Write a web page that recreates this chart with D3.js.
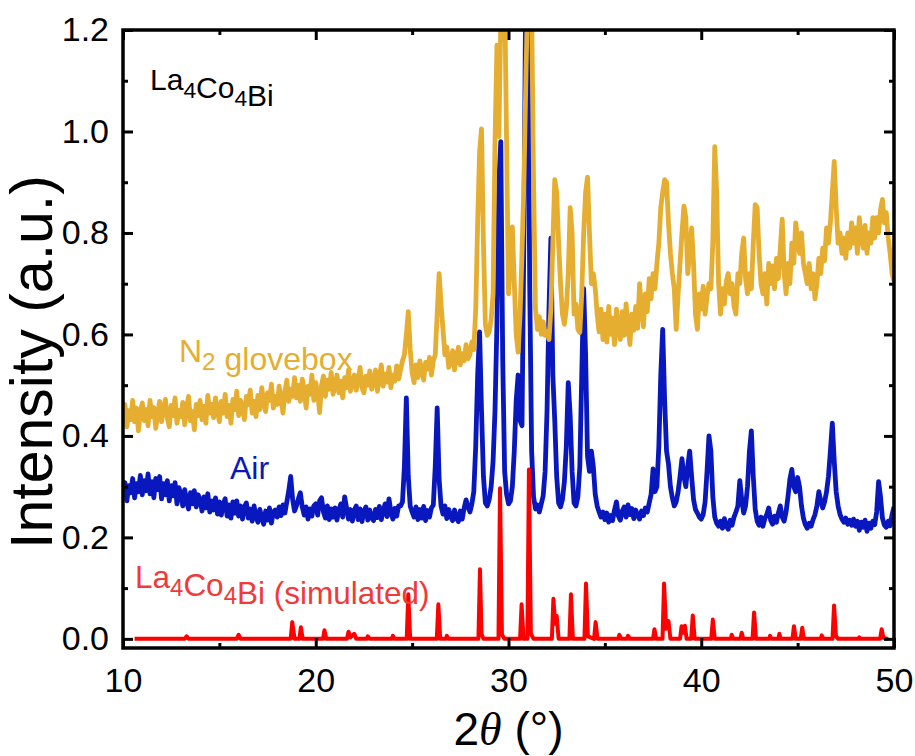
<!DOCTYPE html>
<html>
<head>
<meta charset="utf-8">
<script src="https://cdn.jsdelivr.net/npm/d3@7"></script>
<style>
  html, body { margin: 0; padding: 0; background: #fff; }
  svg { display: block; }
  text { font-family: "Liberation Sans", Arial, sans-serif; }
</style>
</head>
<body>
<svg id="chart" width="915" height="756"></svg>
<script>
// Powder XRD of La4Co4Bi: sample kept in N2 glovebox, sample exposed to air,
// and the simulated pattern. Measured patterns sampled every 0.1 deg (10-50 deg).
const angleStart = 10, angleStep = 0.1;

const gloveboxIntensity = [
  0.425,0.462,0.418,0.450,0.432,0.470,0.428,0.455,0.410,0.448,
  0.465,0.430,0.452,0.420,0.470,0.438,0.456,0.415,0.445,0.468,
  0.428,0.452,0.472,0.435,0.418,0.460,0.440,0.475,0.425,0.450,
  0.438,0.466,0.422,0.455,0.478,0.430,0.448,0.412,0.462,0.440,
  0.470,0.432,0.458,0.425,0.480,0.445,0.462,0.436,0.475,0.450,
  0.428,0.468,0.445,0.482,0.438,0.460,0.425,0.472,0.452,0.488,
  0.440,0.470,0.455,0.432,0.478,0.462,0.490,0.445,0.468,0.438,
  0.480,0.452,0.495,0.466,0.448,0.485,0.470,0.502,0.455,0.478,
  0.462,0.498,0.472,0.445,0.488,0.510,0.468,0.492,0.478,0.515,
  0.475,0.500,0.468,0.512,0.490,0.455,0.498,0.482,0.520,0.470,
  0.505,0.485,0.446,0.500,0.518,0.478,0.510,0.492,0.525,0.482,
  0.498,0.520,0.485,0.508,0.475,0.515,0.495,0.530,0.488,0.505,
  0.520,0.490,0.512,0.535,0.495,0.485,0.518,0.500,0.528,0.492,
  0.505,0.530,0.488,0.515,0.540,0.498,0.522,0.506,0.535,0.495,
  0.520,0.508,0.538,0.512,0.530,0.548,0.560,0.600,0.645,0.570,
  0.525,0.505,0.540,0.515,0.548,0.528,0.510,0.545,0.532,0.555,
  0.520,0.548,0.560,0.640,0.720,0.660,0.610,0.560,0.575,0.535,
  0.545,0.568,0.530,0.556,0.575,0.540,0.562,0.548,0.580,0.552,
  0.560,0.585,0.570,0.650,0.820,0.960,1.005,0.780,0.620,0.598,
  0.605,0.630,0.680,0.980,1.170,0.990,1.220,1.300,1.280,0.980,
  0.680,0.740,0.812,0.700,0.600,0.565,0.640,0.760,0.900,1.100,
  1.280,1.320,1.250,0.900,0.650,0.610,0.635,0.600,0.625,0.598,
  0.605,0.590,0.650,0.780,0.905,0.880,0.780,0.700,0.640,0.620,
  0.650,0.720,0.850,0.800,0.640,0.660,0.610,0.604,0.680,0.800,
  0.880,0.910,0.800,0.700,0.720,0.690,0.640,0.605,0.650,0.590,
  0.640,0.585,0.655,0.600,0.632,0.580,0.650,0.610,0.590,0.645,
  0.598,0.660,0.615,0.580,0.640,0.608,0.655,0.612,0.700,0.650,
  0.615,0.680,0.645,0.710,0.670,0.720,0.690,0.740,0.780,0.850,
  0.880,0.905,0.900,0.820,0.760,0.720,0.690,0.610,0.680,0.740,
  0.800,0.853,0.830,0.720,0.760,0.810,0.740,0.640,0.610,0.680,
  0.650,0.695,0.640,0.675,0.700,0.690,0.780,0.970,0.880,0.700,
  0.640,0.690,0.660,0.705,0.720,0.680,0.700,0.655,0.640,0.720,
  0.700,0.760,0.790,0.710,0.680,0.720,0.690,0.780,0.856,0.850,
  0.760,0.700,0.680,0.720,0.660,0.740,0.700,0.735,0.690,0.750,
  0.710,0.770,0.827,0.720,0.680,0.740,0.700,0.780,0.740,0.820,
  0.790,0.760,0.800,0.740,0.720,0.700,0.740,0.690,0.720,0.670,
  0.700,0.750,0.720,0.770,0.745,0.810,0.780,0.820,0.880,0.941,
  0.850,0.780,0.800,0.760,0.790,0.750,0.800,0.770,0.820,0.780,
  0.810,0.760,0.830,0.790,0.770,0.815,0.760,0.800,0.780,0.830,
  0.790,0.830,0.800,0.845,0.866,0.820,0.840,0.790,0.760,0.720,
  0.705
];

const airIntensity = [
  0.280,0.308,0.272,0.302,0.288,0.316,0.278,0.306,0.290,0.322,
  0.284,0.312,0.292,0.325,0.286,0.310,0.278,0.316,0.294,0.320,
  0.276,0.306,0.284,0.312,0.272,0.302,0.282,0.308,0.266,0.298,
  0.286,0.262,0.294,0.272,0.256,0.288,0.266,0.292,0.260,0.284,
  0.274,0.252,0.280,0.258,0.286,0.250,0.272,0.254,0.278,0.246,
  0.270,0.244,0.266,0.276,0.242,0.264,0.238,0.270,0.248,0.272,
  0.242,0.262,0.236,0.260,0.268,0.238,0.256,0.232,0.262,0.240,
  0.230,0.255,0.238,0.226,0.252,0.234,0.258,0.228,0.250,0.254,
  0.240,0.260,0.243,0.264,0.248,0.270,0.292,0.320,0.275,0.252,
  0.262,0.276,0.288,0.260,0.244,0.260,0.236,0.256,0.242,0.262,
  0.266,0.244,0.272,0.278,0.250,0.238,0.262,0.235,0.256,0.240,
  0.258,0.234,0.254,0.266,0.240,0.280,0.258,0.236,0.255,0.232,
  0.253,0.262,0.235,0.256,0.231,0.251,0.260,0.234,0.254,0.238,
  0.233,0.255,0.239,0.261,0.235,0.252,0.266,0.241,0.276,0.250,
  0.236,0.257,0.242,0.262,0.262,0.270,0.340,0.475,0.320,0.262,
  0.250,0.240,0.260,0.235,0.255,0.238,0.261,0.233,0.253,0.240,
  0.258,0.264,0.340,0.455,0.315,0.262,0.246,0.262,0.237,0.255,
  0.241,0.233,0.254,0.238,0.231,0.252,0.236,0.258,0.274,0.260,
  0.250,0.266,0.290,0.380,0.520,0.605,0.450,0.320,0.268,0.262,
  0.275,0.300,0.350,0.450,0.620,0.900,0.980,0.550,0.330,0.285,
  0.266,0.272,0.300,0.370,0.470,0.520,0.430,0.420,0.800,1.320,
  1.300,0.700,0.370,0.280,0.256,0.264,0.250,0.266,0.282,0.330,
  0.450,0.650,0.790,0.520,0.430,0.320,0.268,0.260,0.275,0.310,
  0.380,0.505,0.440,0.330,0.268,0.262,0.280,0.340,0.520,0.690,
  0.560,0.360,0.330,0.370,0.340,0.285,0.262,0.250,0.240,0.250,
  0.235,0.248,0.230,0.243,0.233,0.254,0.270,0.242,0.234,0.252,
  0.260,0.240,0.264,0.245,0.257,0.237,0.254,0.244,0.236,0.252,
  0.243,0.258,0.250,0.268,0.285,0.335,0.290,0.300,0.380,0.520,
  0.610,0.470,0.370,0.345,0.300,0.278,0.262,0.270,0.290,0.320,
  0.355,0.320,0.300,0.340,0.370,0.320,0.275,0.255,0.248,0.240,
  0.236,0.245,0.270,0.330,0.400,0.370,0.280,0.240,0.228,0.222,
  0.232,0.218,0.237,0.222,0.216,0.234,0.224,0.240,0.250,0.262,
  0.312,0.275,0.248,0.262,0.300,0.370,0.410,0.320,0.255,0.232,
  0.224,0.240,0.222,0.237,0.245,0.258,0.234,0.226,0.242,0.230,
  0.248,0.262,0.240,0.232,0.250,0.280,0.315,0.334,0.300,0.290,
  0.318,0.300,0.262,0.238,0.225,0.218,0.228,0.222,0.235,0.245,
  0.262,0.290,0.272,0.258,0.270,0.290,0.320,0.370,0.425,0.350,
  0.290,0.262,0.245,0.236,0.230,0.238,0.226,0.234,0.224,0.236,
  0.222,0.232,0.214,0.230,0.220,0.234,0.212,0.228,0.218,0.232,
  0.225,0.250,0.310,0.280,0.238,0.224,0.220,0.232,0.223,0.245,
  0.260
];

// Simulated pattern: [2theta, intensity] vertices of the calculated reflections.
const simulatedPattern = [
  [10.6,0],[13.2,0],[13.3,0.005],[13.4,0],[15.9,0],[16.0,0.008],[16.1,0],
  [18.7,0],[18.78,0.033],[18.9,0],[19.15,0],[19.23,0.023],[19.32,0],
  [20.38,0],[20.45,0.017],[20.55,0],[21.62,0],[21.7,0.014],[21.8,0.003],[22.0,0.01],[22.1,0],
  [22.65,0],[22.7,0.005],[22.8,0],[23.95,0],[24.0,0.006],[24.1,0],
  [24.72,0],[24.8,0.088],[24.9,0],[26.28,0],[26.36,0.068],[26.46,0],[26.75,0],[26.8,0.006],[26.9,0],
  [28.44,0],[28.52,0.137],[28.6,0.01],[28.7,0],[29.48,0],[29.56,0.297],[29.66,0.008],[29.8,0],
  [30.6,0],[30.68,0.068],[30.78,0],[30.98,0],[31.06,0.334],[31.16,0.01],[31.3,0],
  [32.25,0],[32.33,0.079],[32.42,0.03],[32.5,0.045],[32.6,0],[33.16,0],[33.24,0.088],[33.34,0],
  [33.94,0],[34.02,0.109],[34.12,0.005],[34.44,0],[34.52,0.033],[34.62,0],
  [35.7,0],[35.75,0.008],[35.85,0],[36.15,0],[36.2,0.006],[36.3,0],
  [37.5,0],[37.57,0.019],[37.66,0],[37.99,0],[38.07,0.109],[38.18,0.02],[38.3,0.035],[38.4,0],
  [38.9,0],[38.98,0.025],[39.07,0.012],[39.15,0.026],[39.24,0],[39.48,0],[39.56,0.046],[39.66,0],
  [40.52,0],[40.6,0.038],[40.7,0],[41.53,0],[41.58,0.008],[41.66,0],[42.03,0],[42.1,0.012],[42.18,0],
  [42.66,0],[42.74,0.052],[42.84,0],[43.52,0],[43.57,0.006],[43.65,0],[44.0,0],[44.05,0.01],[44.12,0],
  [44.73,0],[44.81,0.025],[44.9,0],[45.16,0],[45.24,0.022],[45.32,0],[46.2,0],[46.25,0.007],[46.33,0],
  [46.81,0],[46.89,0.066],[46.99,0.005],[47.1,0],[48.15,0],[48.2,0.003],[48.25,0],
  [49.28,0],[49.36,0.019],[49.45,0.002],[49.7,0]
];

const xMajorTicks = [10, 20, 30, 40, 50];
const xMinorTicks = [15, 25, 35, 45];
const yMajorTicks = [0.0, 0.2, 0.4, 0.6, 0.8, 1.0, 1.2];
const yMinorTicks = [0.1, 0.3, 0.5, 0.7, 0.9, 1.1];

const colors = { glovebox: "#E5AE31", air: "#0818BE", simulated: "#FF0000" };

const svg = d3.select("#chart");
const plotLeft = 123, plotRight = 894, plotTop = 30, plotBottom = 648;

const x = d3.scaleLinear().domain([10, 50]).range([plotLeft, plotRight]);
const y = d3.scaleLinear().domain([-0.018, 1.2]).range([plotBottom, plotTop]);

const gridPoints = values => values.map((v, i) => [angleStart + i * angleStep, v]);

svg.append("clipPath").attr("id", "plot-clip")
  .append("rect").attr("x", plotLeft).attr("y", plotTop)
  .attr("width", plotRight - plotLeft).attr("height", plotBottom - plotTop);

const line = d3.line().x(d => x(d[0])).y(d => y(d[1]));
const plot = svg.append("g").attr("clip-path", "url(#plot-clip)");

plot.append("path").datum(gridPoints(airIntensity))
  .attr("d", line).attr("fill", "none")
  .attr("stroke", colors.air).attr("stroke-width", 4.8).attr("stroke-linejoin", "round");
plot.append("path").datum(simulatedPattern)
  .attr("d", line).attr("fill", "none")
  .attr("stroke", colors.simulated).attr("stroke-width", 4).attr("stroke-linejoin", "round");
plot.append("path").datum(gridPoints(gloveboxIntensity))
  .attr("d", line).attr("fill", "none")
  .attr("stroke", colors.glovebox).attr("stroke-width", 4.8).attr("stroke-linejoin", "round");

// Axes: ticks point inward on all four sides
const tickFont = 34;
const styleAxis = g => {
  g.select(".domain").remove();
  g.selectAll(".tick line").attr("stroke", "#000").attr("stroke-width", 3);
  g.selectAll(".tick text").attr("fill", "#000").style("font-size", tickFont + "px")
    .style("font-family", "'Liberation Sans', Arial, sans-serif");
};

svg.append("g").attr("transform", `translate(0,${plotBottom})`)
  .call(d3.axisBottom(x).tickValues(xMajorTicks).tickFormat(d3.format("d")).tickSizeInner(-10).tickSizeOuter(0).tickPadding(20))
  .call(styleAxis);
svg.append("g").attr("transform", `translate(0,${plotBottom})`)
  .call(d3.axisBottom(x).tickValues(xMinorTicks).tickFormat("").tickSizeInner(-5).tickSizeOuter(0))
  .call(styleAxis);
svg.append("g").attr("transform", `translate(0,${plotTop})`)
  .call(d3.axisTop(x).tickValues(xMajorTicks).tickFormat("").tickSizeInner(-10).tickSizeOuter(0))
  .call(styleAxis);
svg.append("g").attr("transform", `translate(0,${plotTop})`)
  .call(d3.axisTop(x).tickValues(xMinorTicks).tickFormat("").tickSizeInner(-5).tickSizeOuter(0))
  .call(styleAxis);

svg.append("g").attr("transform", `translate(${plotLeft},0)`)
  .call(d3.axisLeft(y).tickValues(yMajorTicks).tickFormat(d3.format(".1f")).tickSizeInner(-10).tickSizeOuter(0).tickPadding(14))
  .call(styleAxis);
svg.append("g").attr("transform", `translate(${plotLeft},0)`)
  .call(d3.axisLeft(y).tickValues(yMinorTicks).tickFormat("").tickSizeInner(-5).tickSizeOuter(0))
  .call(styleAxis);
svg.append("g").attr("transform", `translate(${plotRight},0)`)
  .call(d3.axisRight(y).tickValues(yMajorTicks).tickFormat("").tickSizeInner(-10).tickSizeOuter(0))
  .call(styleAxis);
svg.append("g").attr("transform", `translate(${plotRight},0)`)
  .call(d3.axisRight(y).tickValues(yMinorTicks).tickFormat("").tickSizeInner(-5).tickSizeOuter(0))
  .call(styleAxis);

// Frame
svg.append("rect").attr("x", plotLeft).attr("y", plotTop)
  .attr("width", plotRight - plotLeft).attr("height", plotBottom - plotTop)
  .attr("fill", "none").attr("stroke", "#000").attr("stroke-width", 3.5);

// Axis titles
svg.append("text")
  .attr("transform", "translate(52,362) rotate(-90)")
  .attr("text-anchor", "middle").style("font-size", "59px").attr("fill", "#000")
  .text("Intensity (a.u.)");

const xTitle = svg.append("text")
  .attr("x", (plotLeft + plotRight) / 2).attr("y", 745)
  .attr("text-anchor", "middle").style("font-size", "46px").attr("fill", "#000");
xTitle.append("tspan").text("2");
xTitle.append("tspan").style("font-style", "italic")
  .style("font-family", "'Liberation Serif', 'Times New Roman', serif").text("\u03B8");
xTitle.append("tspan").text(" (\u00B0)");

// Formula labels with subscripts
function formulaLabel(px, py, parts, color, size) {
  const t = svg.append("text").attr("x", px).attr("y", py)
    .attr("fill", color).style("font-size", size + "px");
  parts.forEach(([s, sub]) => {
    if (sub) {
      t.append("tspan").attr("dy", size * 0.26).style("font-size", (size * 0.76) + "px").text(s);
      t.append("tspan").attr("dy", -size * 0.26).text("");
    } else {
      t.append("tspan").text(s);
    }
  });
  return t;
}

formulaLabel(150, 90, [["La"], ["4", true], ["Co"], ["4", true], ["Bi"]], "#000", 30);
formulaLabel(179, 362, [["N"], ["2", true], [" glovebox"]], colors.glovebox, 32);
formulaLabel(230, 479, [["Air"]], colors.air, 32);
formulaLabel(135, 588, [["La"], ["4", true], ["Co"], ["4", true], ["Bi (simulated)"]], "#F03A3A", 31.5);
</script>
</body>
</html>
